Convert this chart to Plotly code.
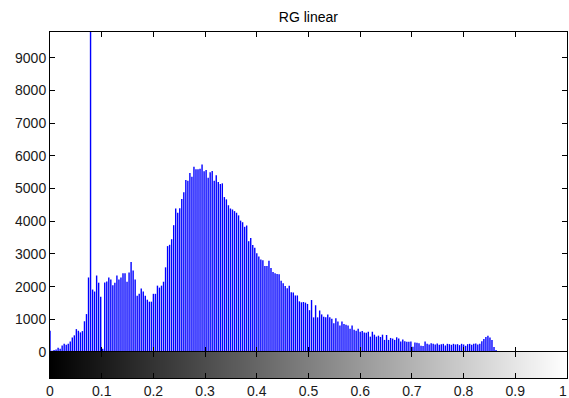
import numpy as np
import plotly.graph_objects as go

# ---- data (histogram counts, 256 bins) ----
seg_a = [650, 40, 60]
seg_b = [80, 130, 100, 200, 250, 220, 250, 320, 440, 510,
         700, 650, 600, 640, 940, 1160, 2280, 9790, 1910, 1850,
         2340, 2120, 1690, 100, 2130, 2160, 2280, 2220, 2040, 2120,
         2340, 2220, 2280, 2410, 2410, 2150, 2430, 2750, 2490, 2220,
         1720, 1780, 1940, 1850, 1720, 1600, 1540, 1540, 1780, 1780,
         2030, 1970, 2030, 2150, 2590, 3240, 3280]
seg_c = [3450, 3880, 4390, 4260, 4400]
seg_d = [4680, 4890, 5260, 5240, 5480, 5360, 5670, 5590, 5590, 5610,
         5740, 5530, 5570, 5330, 5500, 5540, 5240, 5410, 5200, 5140,
         5160, 4740, 4670, 4490, 4390, 4360, 4310, 4260, 4180, 4020,
         3970, 3830, 3870, 3390, 3490, 3270, 3190, 3020, 2920, 2830,
         2810, 2630, 2630, 2790, 2570, 2450, 2410, 2390, 2380, 2180,
         2100, 2020, 1950, 2030, 1830, 1820, 1730, 1730, 1550, 1520,
         1530, 1510, 1470, 1280]
seg_e = [1590, 1060, 1430, 1060, 1270, 1150, 1080, 1060, 1150, 1060,
         1020, 880, 1030, 930, 810, 930, 860, 830, 810, 710,
         810, 680, 650, 710, 620, 640, 600, 590, 620, 470,
         620, 530, 470, 500, 460, 530, 370, 520, 370, 430,
         410, 370, 450, 410, 320, 380, 330, 310, 310, 320,
         160, 290, 280, 270, 190, 180, 320, 250, 230, 270]
seg_f = [250, 230, 260, 220, 240, 250, 200, 250, 240, 220,
         250, 230, 240, 210, 250, 230, 190, 240, 250, 220,
         250, 260, 230, 250]
seg_g = [330, 400, 460, 500, 440, 370, 150, 60]
seg_h = [20, 10, 15, 10, 20, 10, 5, 10, 15, 10,
         20, 30, 20, 10, 15, 20, 10, 5, 10, 20,
         15, 10, 10, 20, 15, 10, 5, 10, 15, 20,
         10, 15, 10, 20, 30]
counts = seg_a + seg_b + seg_c + seg_d + seg_e + seg_f + seg_g + seg_h

x_ticks = [0, 0.1, 0.2, 0.3, 0.4, 0.5, 0.6, 0.7, 0.8, 0.9, 1]
x_tick_labels = ["0", "0.1", "0.2", "0.3", "0.4", "0.5", "0.6", "0.7", "0.8", "0.9", "1"]
y_ticks = [0, 1000, 2000, 3000, 4000, 5000, 6000, 7000, 8000, 9000]
y_max = 9790
title = "RG linear"

n = len(counts)
bin_x = np.linspace(0, 1, n)

# stem lines built from the data
sx, sy = [], []
for xv, c in zip(bin_x, counts):
    sx += [xv, xv, None]
    sy += [0, c, None]

fig = go.Figure()
fig.add_trace(go.Scatter(x=sx, y=sy, mode="lines",
                         line=dict(color="#0000ff", width=1.4),
                         hoverinfo="skip", showlegend=False,
                         xaxis="x", yaxis="y"))

# grayscale colour bar below
grad = np.linspace(0, 1, 256)
fig.add_trace(go.Heatmap(x=grad, y=[0], z=[grad],
                         colorscale=[[0, "black"], [1, "white"]],
                         showscale=False, hoverinfo="skip",
                         xaxis="x2", yaxis="y2"))

font = dict(family="Liberation Sans, Arial, sans-serif", size=14, color="#1a1a1a")
split = 26 / 346

axis_common = dict(showline=True, linecolor="black", linewidth=1,
                   mirror="allticks", ticks="inside", tickcolor="black",
                   ticklen=5, showgrid=False, zeroline=False, automargin=False)

# last x label is drawn as an annotation, right-aligned to the page edge
shown_labels = x_tick_labels[:-1] + [""]

fig.update_layout(
    width=569, height=398,
    margin=dict(l=50, r=2, t=32, b=20, autoexpand=False),
    paper_bgcolor="white", plot_bgcolor="white",
    font=font,
    title=dict(text=title, x=0.542, xanchor="center",
               y=1 - 17.3 / 398, yanchor="middle", yref="container",
               font=dict(size=14, color="black")),
    xaxis=dict(domain=[0, 1], range=[0, 1], anchor="y",
               tickvals=x_ticks, showticklabels=False, **axis_common),
    yaxis=dict(domain=[split, 1], range=[0, y_max], anchor="x",
               tickvals=y_ticks, ticktext=[str(v) for v in y_ticks],
               **axis_common),
    xaxis2=dict(domain=[0, 1], range=[0, 1], anchor="y2",
                tickvals=x_ticks, ticktext=shown_labels,
                ticklabeloverflow="allow", **axis_common),
    yaxis2=dict(domain=[0, split], range=[-0.5, 0.5], anchor="x2",
                showline=True, linecolor="black", linewidth=1, mirror=True,
                showticklabels=False, ticks="", showgrid=False, zeroline=False,
                automargin=False),
    annotations=[dict(text=x_tick_labels[-1], xref="paper", yref="paper",
                      x=1 + 2 / 517, y=-13 / 346, xanchor="right",
                      yanchor="middle", showarrow=False,
                      font=dict(size=14, color="#1a1a1a"))],
)

fig.write_html("out.html", config={"displayModeBar": False},
               post_script="document.body.style.margin='0';document.body.style.overflow='hidden';")
